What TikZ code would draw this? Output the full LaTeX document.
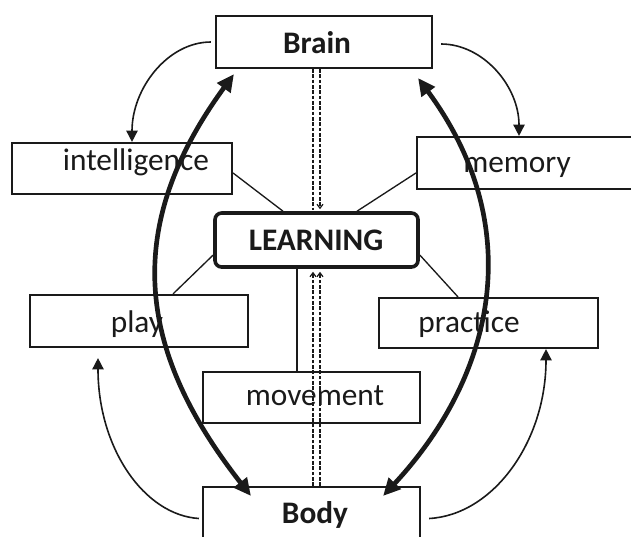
\documentclass[tikz,border=0pt]{standalone}
\usepackage{fontspec}
\setmainfont{Carlito}
\usetikzlibrary{arrows.meta,calc}
\definecolor{ink}{HTML}{1A1A1A}
\tikzset{
  box/.style={draw=ink, line width=1.6pt, fill=white, inner sep=0pt, minimum width=#1},
  box/.default=160pt,
  hubbox/.style={draw=ink, line width=2.7pt, fill=white, rounded corners=5pt, inner sep=0pt},
  lbl/.style={anchor=base, inner sep=0pt, text=ink, font=\fontsize{23.5pt}{26pt}\selectfont},
  blbl/.style={lbl, font=\fontsize{23.5pt}{26pt}\selectfont\bfseries},
  link/.style={draw=ink, line width=1pt},
  loop/.style={draw=ink, line width=1.2pt, -{Triangle[length=8.5pt,width=8.5pt]}},
  bond/.style={draw=ink, line width=3.5pt, {Triangle[length=13pt,width=12pt]}-{Triangle[length=13pt,width=12pt]}},
  rail/.style={draw=ink, line width=0.9pt, dash pattern=on 2.6pt off 1.4pt},
  railtip/.style={-{Straight Barb[length=3pt,width=4.5pt]}}
}
\begin{document}
\begin{tikzpicture}[x=0.75pt,y=-0.75pt]
\useasboundingbox (0,0) rectangle (631,536);
\clip (0,0) rectangle (631,536);
\fill[white] (0,0) rectangle (631,536);

% boxes
\node[box=162pt, minimum height=39pt]       (brain)    at (324,42)    {};
\node[box=165pt, minimum height=38.25pt]    (intel)    at (122,168.5) {};
\node[box=182.25pt, minimum height=39pt]    (memory)   at (538.5,163) {};
\node[hubbox, minimum width=152.25pt, minimum height=40.5pt] (learn) at (316.5,240) {};
\node[box=163.5pt, minimum height=39pt]     (play)     at (139,321)   {};
\node[box=164.25pt, minimum height=37.5pt]  (practice) at (488.5,323) {};
\node[box=162.75pt, minimum height=38.25pt] (movement) at (311.5,397.5) {};
\node[box=162.75pt, minimum height=54.75pt] (body)     at (311.5,523.5) {};

% labels
\node[blbl] (tbrain)    at (317,53)  {Brain};
\node[lbl]  (tintel)    at (136,170) {intelligence};
\node[lbl]  (tmemory)   at (517,172) {memory};
\node[blbl] (tlearn)    at (316,250) {LEARNING};
\node[lbl]  (tplay)     at (137,332) {play};
\node[lbl]  (tpractice) at (469,332) {practice};
\node[lbl]  (tmovement) at (315,405) {movement};
\node[blbl] (tbody)     at (315,523) {Body};

% spokes around LEARNING
\draw[link] ($(intel.east)+(0,4.5)$) -- ($(learn.north)+(-33.5,0)$);
\draw[link] ($(memory.west)+(0,10)$) -- ($(learn.north)+(40.5,0)$);
\draw[link] ($(play.north)+(34,0)$) -- ($(learn.west)+(0,15)$);
\draw[link] ($(practice.north)+(-30.5,0)$) -- ($(learn.east)+(0,15)$);
\draw[link] ($(learn.south)+(-19.5,0)$) -- ($(movement.north)+(-14.5,0)$);

% dashed double rail Brain - LEARNING - Body
\draw[rail] ($(brain.south)+(-11,0)$) -- ($(learn.north)+(-3.5,-1)$);
\draw[rail, railtip] ($(brain.south)+(-4,0)$) -- ($(learn.north)+(3.5,-2)$);
\draw[rail, railtip] ($(body.north)+(1.5,0)$) -- ($(learn.south)+(-3.5,3)$);
\draw[rail, railtip] ($(body.north)+(8.5,0)$) -- ($(learn.south)+(3.5,3)$);

% thin feedback arrows
\draw[loop] ($(brain.west)+(-4,0)$) .. controls (168,42) and (132,88) .. ($(intel.north)+(10,0)$);
\draw[loop] ($(brain.east)+(8,2)$) .. controls (483,44) and (519,86) .. ($(memory.north)+(-19.5,0)$);
\draw[loop] ($(body.west)+(-3,-5)$) .. controls (144,515) and (98,448) .. ($(play.south)+(-41,10)$);
\draw[loop] ($(body.east)+(8,-5)$) .. controls (493,515) and (546,442) .. ($(practice.south)+(57.5,0)$);

% thick Brain <-> Body arcs
\draw[bond] ($(brain.south west)+(19,5)$) .. controls (120,230) and (139,353) .. ($(body.north west)+(49,10)$);
\draw[bond] ($(brain.south east)+(-15,9)$) .. controls (530,230) and (492,379) .. ($(body.north east)+(-38,10)$);
\end{tikzpicture}
\end{document}
